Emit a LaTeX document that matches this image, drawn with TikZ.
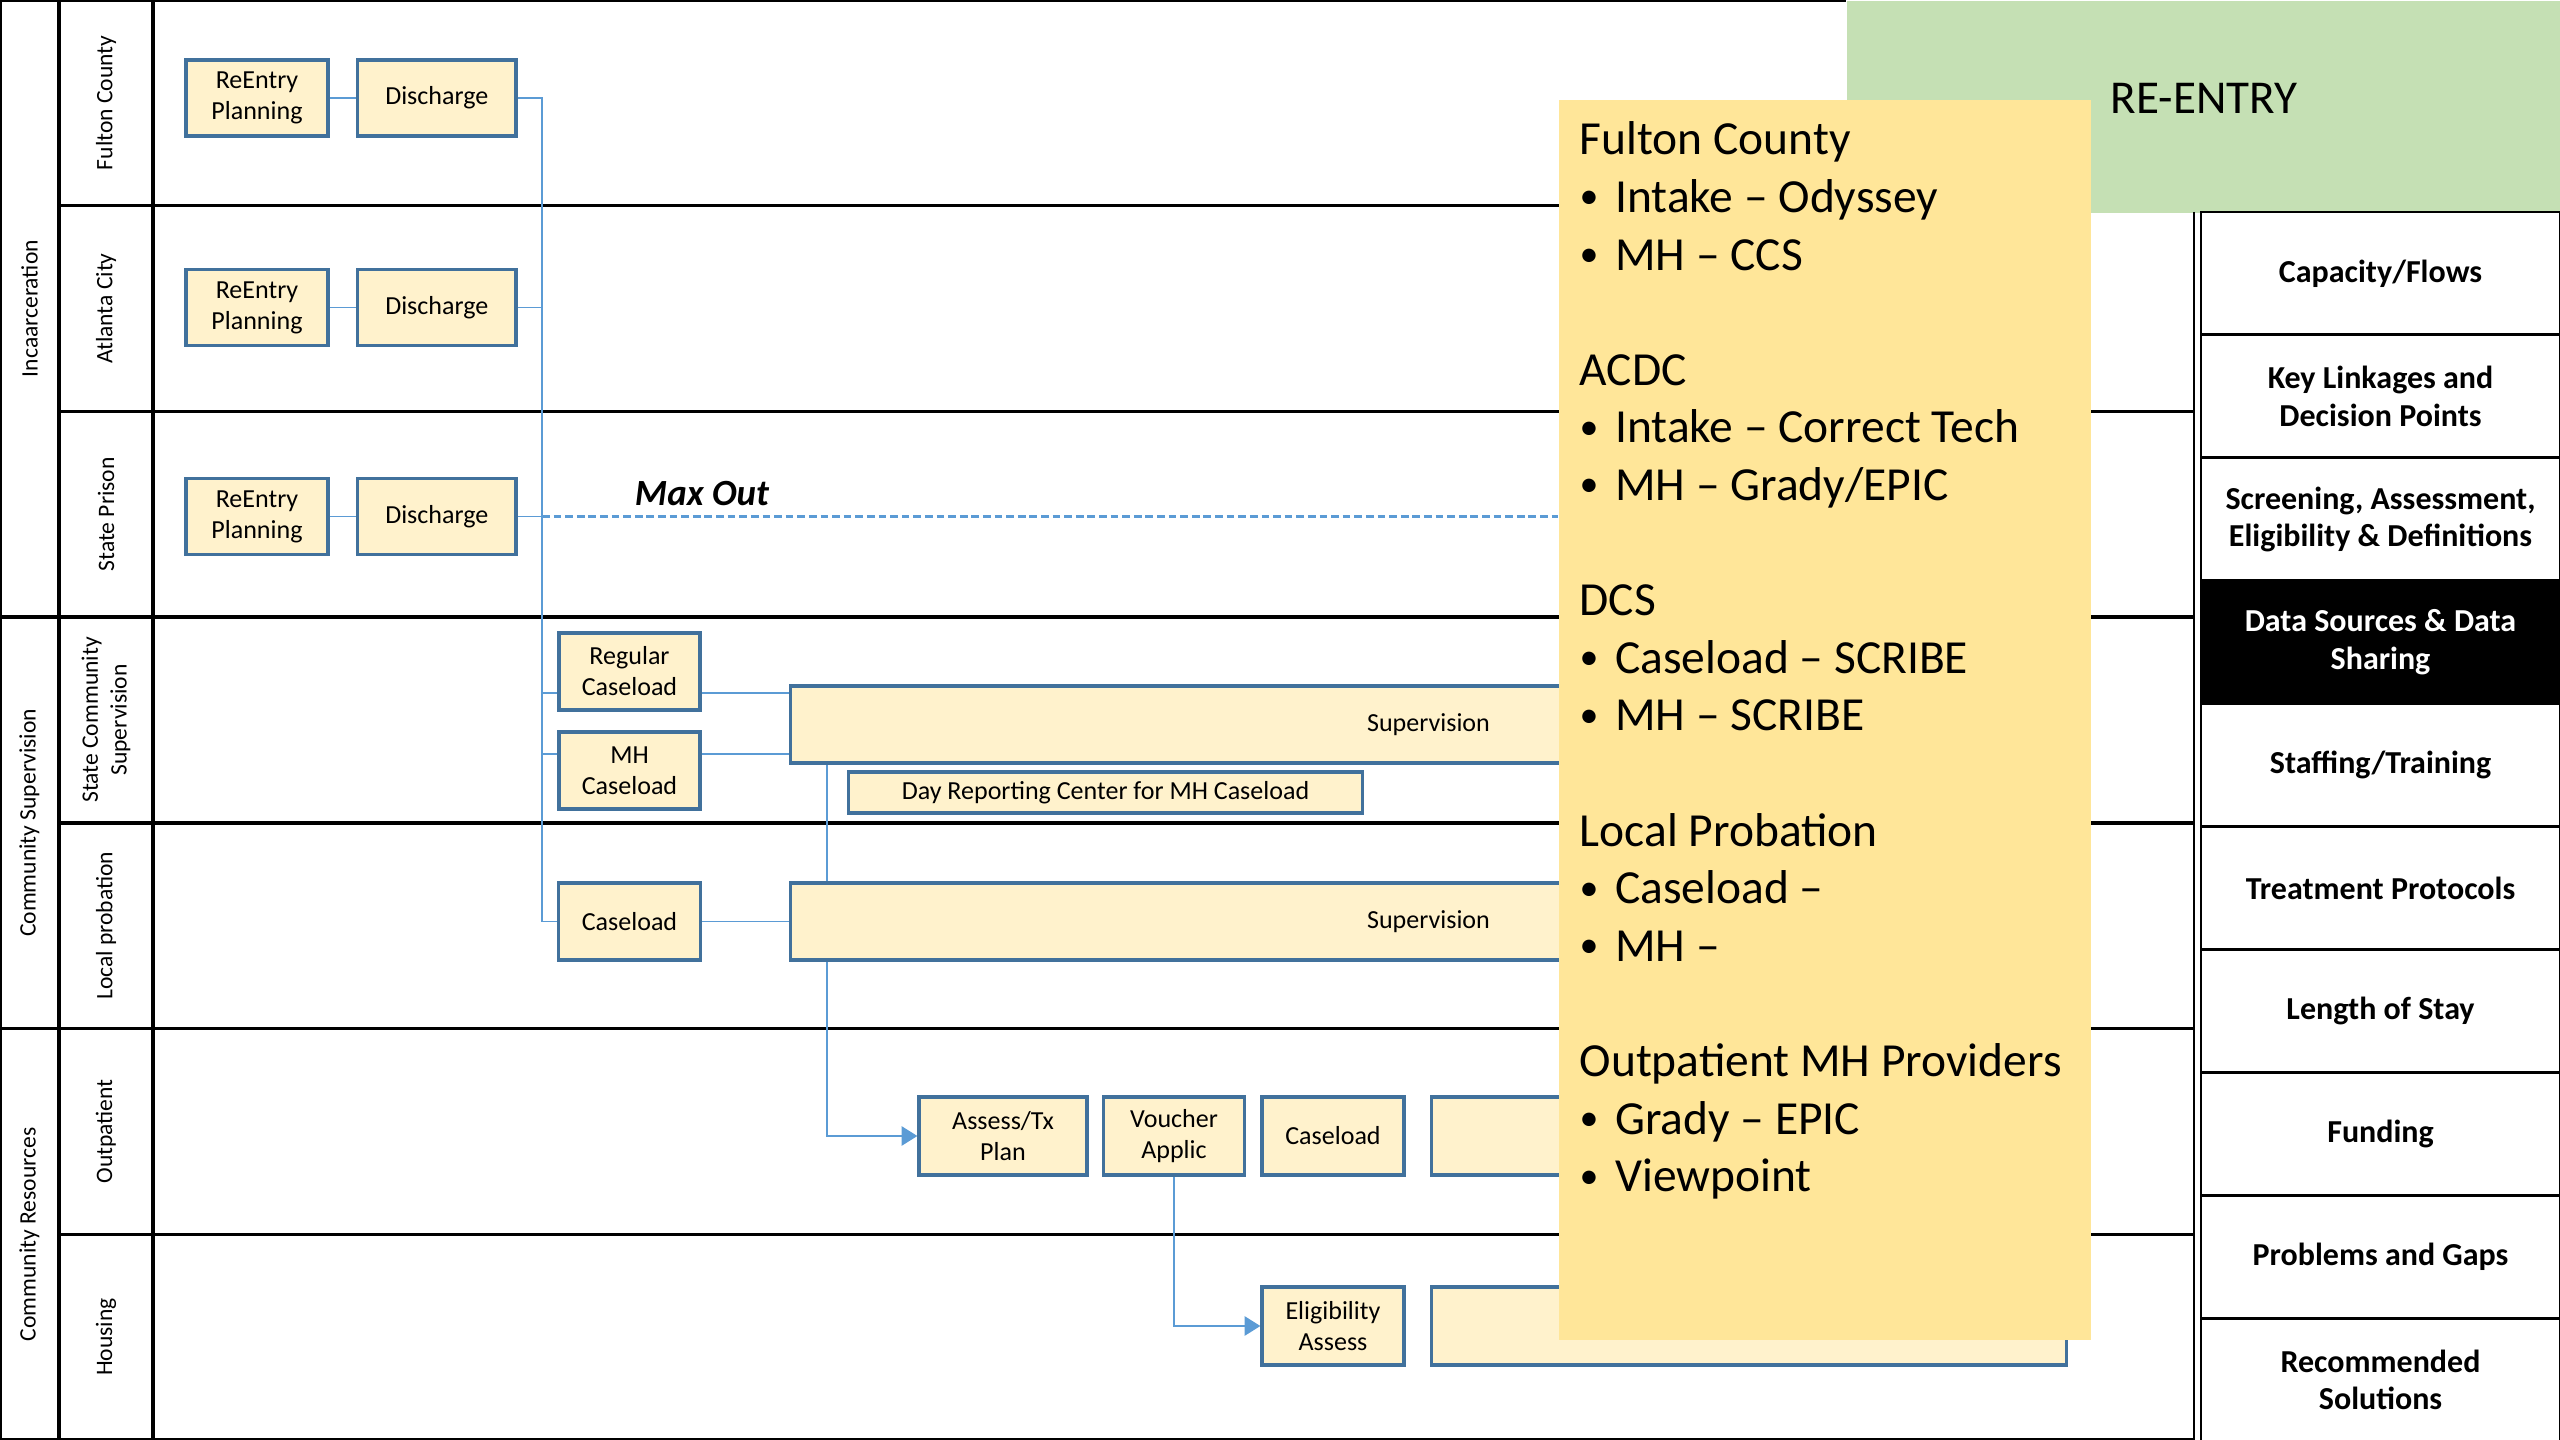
\documentclass[tikz,border=0pt]{standalone}
\usepackage{fontspec}
\setmainfont{Carlito}
\usetikzlibrary{arrows.meta,backgrounds}
\definecolor{boxfill}{HTML}{FFF2CC}
\definecolor{boxline}{HTML}{41719C}
\definecolor{connc}{HTML}{5B9BD5}
\definecolor{notec}{HTML}{FFE699}
\definecolor{reentryc}{HTML}{C5E0B4}
\tikzset{
  gridline/.style={line width=1pt, black},
  pbox/.style={draw=boxline, fill=boxfill, line width=0.9pt, inner sep=0pt, align=center,
    font=\fontsize{7.4}{8.8}\selectfont},
  conn/.style={draw=connc, line width=0.55pt},
  arr/.style={conn, -{Triangle[length=4.5pt,width=5.5pt]}},
  lab/.style={rotate=90, align=center, inner sep=0pt, font=\fontsize{6.7}{8.2}\selectfont},
  side/.style={draw=black, line width=0.8pt, minimum width=3.59cm, minimum height=1.229cm,
    align=center, inner sep=0pt, font=\bfseries\fontsize{9.1}{10.6}\selectfont},
  noteline/.style={anchor=base west, inner sep=0pt, font=\fontsize{13.5}{16.3}\selectfont},
}
\newcommand{\blt}{\makebox[0.75em][l]{\raisebox{0.08em}{\scalebox{0.8}{•}}}}
\begin{document}
\begin{tikzpicture}[x=0.01cm,y=-0.01cm]
\useasboundingbox (0,0) rectangle (2560,1440);

% ---------- process boxes ----------
\node[pbox, minimum width=1.42cm, minimum height=0.76cm] (rp1) at (257,98) {ReEntry\\Planning};
\node[pbox, minimum width=1.585cm, minimum height=0.76cm] (d1) at (436.75,98) {Discharge};
\node[pbox, minimum width=1.42cm, minimum height=0.76cm] (rp2) at (257,307.5) {ReEntry\\Planning};
\node[pbox, minimum width=1.585cm, minimum height=0.76cm] (d2) at (436.75,307.5) {Discharge};
\node[pbox, minimum width=1.42cm, minimum height=0.76cm] (rp3) at (257,516.5) {ReEntry\\Planning};
\node[pbox, minimum width=1.585cm, minimum height=0.76cm] (d3) at (436.75,516.5) {Discharge};

\node[pbox, minimum width=1.41cm, minimum height=0.77cm] (rc) at (629.5,671.5) {Regular\\Caseload};
\node[pbox, minimum width=1.41cm, minimum height=0.77cm] (mhc) at (629.5,770.5) {MH\\Caseload};
\node[pbox, minimum width=12.75cm, minimum height=0.77cm] (sup1) at (1428.5,724.5) {Supervision};
\node[pbox, minimum width=5.13cm, minimum height=0.41cm] (drc) at (1105.5,792.5) {Day Reporting Center for MH Caseload};

\node[pbox, minimum width=1.42cm, minimum height=0.77cm] (cl3) at (629.5,921.5) {Caseload};
\node[pbox, minimum width=12.75cm, minimum height=0.77cm] (sup2) at (1428.5,921.5) {Supervision};

\node[pbox, minimum width=1.68cm, minimum height=0.78cm] (atp) at (1003,1136) {Assess/Tx\\Plan};
\node[pbox, minimum width=1.415cm, minimum height=0.78cm] (va) at (1174,1136) {Voucher\\Applic};
\node[pbox, minimum width=1.42cm, minimum height=0.78cm] (olc) at (1333,1136) {Caseload};
\node[pbox, minimum width=6.34cm, minimum height=0.78cm] (ob) at (1749,1136) {};

\node[pbox, minimum width=1.42cm, minimum height=0.78cm] (ea) at (1333,1326) {Eligibility\\Assess};
\node[pbox, minimum width=6.34cm, minimum height=0.78cm] (hb) at (1749,1326) {};

% ---------- grid and connectors (behind) ----------
\begin{pgfonlayer}{background}
  \draw[gridline] (0,0) -- (1846,0);
  \draw[gridline] (0,0) -- (0,1440);
  \draw[gridline] (0,1440) -- (2194,1440);
  \draw[gridline] (59,0) -- (59,1440);
  \draw[gridline] (153,0) -- (153,1440);
  \draw[gridline] (0,617.2) -- (2194,617.2);
  \draw[gridline] (0,1028.6) -- (2194,1028.6);
  \draw[gridline] (59,205.7) -- (2194,205.7);
  \draw[gridline] (59,411.4) -- (2194,411.4);
  \draw[gridline] (59,822.9) -- (2194,822.9);
  \draw[gridline] (59,1234.3) -- (2194,1234.3);

  \coordinate (tb) at (542,921.5);
  \coordinate (ra) at (542,693);
  \coordinate (ma) at (542,754);
  \coordinate (vs) at (827,763);
  \draw[conn] (rp1) -- (d1);
  \draw[conn] (rp2) -- (d2);
  \draw[conn] (rp3) -- (d3);
  \draw[conn] (d1.east) -| (tb) -- (cl3.west);
  \draw[conn] (d2.east) -- (d2.east -| tb);
  \draw[conn] (d3.east) -- (d3.east -| tb);
  \draw[conn] (ra) -- (ra -| rc.west);
  \draw[conn] (ra -| rc.east) -- (ra -| sup1.west);
  \draw[conn] (ma) -- (ma -| mhc.west);
  \draw[conn] (ma -| mhc.east) -- (ma -| sup1.west);
  \draw[conn] (cl3) -- (sup2);
  \draw[arr] (vs) |- (atp.west);
  \draw[arr] (va.south) |- (ea.west);
\end{pgfonlayer}

% ---------- Max Out ----------
\coordinate (mxe) at (1558,516.5);
\draw[conn, line width=0.7pt, dash pattern=on 2.2pt off 1.1pt] (d3.east -| tb) -- (mxe);
\node[font=\bfseries\itshape\fontsize{10.5}{12}\selectfont] (maxout) at (702,494) {Max Out};

% ---------- left labels ----------
\node[lab] (g1) at (29.5,308.6) {Incaarceration};
\node[lab] (g2) at (29.5,822.9) {Community Supervision};
\node[lab] (g3) at (29.5,1234.3) {Community Resources};
\node[lab] (s1) at (106,102.9) {Fulton County};
\node[lab] (s2) at (106,308.6) {Atlanta City};
\node[lab] (s3) at (106,514.3) {State Prison};
\node[lab] (s4) at (106,720) {State Community\\Supervision};
\node[lab] (s5) at (106,925.7) {Local probation};
\node[lab] (s6) at (106,1131.4) {Outpatient};
\node[lab] (s7) at (106,1337.1) {Housing};

% ---------- RE-ENTRY header ----------
\node[fill=reentryc, anchor=north west, minimum width=7.14cm, minimum height=2.12cm, inner sep=0pt] (reb) at (1846,0) {};
\node[font=\fontsize{13.4}{16}\selectfont] (ret) at (2204,98) {RE-ENTRY};

% ---------- yellow note ----------
\node[fill=notec, anchor=north west, minimum width=5.32cm, minimum height=12.40cm, inner sep=0pt] (nb) at (1558,99) {};
\node[noteline] (n1) at (1579,155) {Fulton County};
\node[noteline] (n2) at (1579,212.6) {\blt Intake – Odyssey};
\node[noteline] (n3) at (1579,270.2) {\blt MH – CCS};
\node[noteline] (n4) at (1579,385.4) {ACDC};
\node[noteline] (n5) at (1579,443) {\blt Intake – Correct Tech};
\node[noteline] (n6) at (1579,500.6) {\blt MH – Grady/EPIC};
\node[noteline] (n7) at (1579,615.8) {DCS};
\node[noteline] (n8) at (1579,673.4) {\blt Caseload – SCRIBE};
\node[noteline] (n9) at (1579,731) {\blt MH – SCRIBE};
\node[noteline] (n10) at (1579,846.2) {Local Probation};
\node[noteline] (n11) at (1579,903.8) {\blt Caseload –};
\node[noteline] (n12) at (1579,961.4) {\blt MH –};
\node[noteline] (n13) at (1579,1076.6) {Outpatient MH Providers};
\node[noteline] (n14) at (1579,1134.2) {\blt Grady – EPIC};
\node[noteline] (n15) at (1579,1191.8) {\blt Viewpoint};

% ---------- right panel ----------
\draw[line width=0.8pt] (2194,212) -- (2194,1440);
\node[side] (p1) at (2380.5,273.45) {Capacity/Flows};
\node[side] (p2) at (2380.5,396.35) {Key Linkages and\\Decision Points};
\node[side] (p3) at (2380.5,519.25) {Screening, Assessment,\\Eligibility \& Definitions};
\node[side, fill=black, text=white] (p4) at (2380.5,642.15) {Data Sources \& Data\\Sharing};
\node[side] (p5) at (2380.5,765.05) {Staffing/Training};
\node[side] (p6) at (2380.5,887.95) {Treatment Protocols};
\node[side] (p7) at (2380.5,1010.85) {Length of Stay};
\node[side] (p8) at (2380.5,1133.75) {Funding};
\node[side] (p9) at (2380.5,1256.65) {Problems and Gaps};
\node[side] (p10) at (2380.5,1379.55) {Recommended\\Solutions};
\end{tikzpicture}
\end{document}
